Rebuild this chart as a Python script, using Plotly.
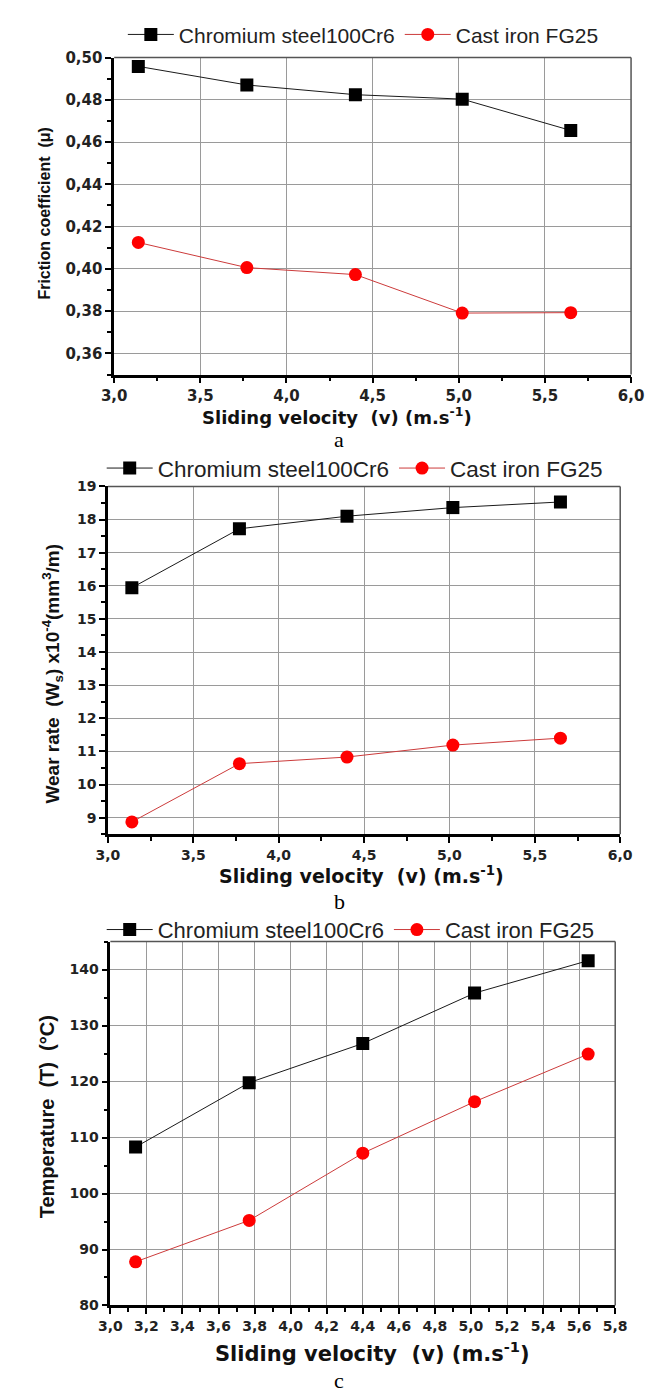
import plotly.graph_objects as go

W, H = 662, 1394

# ---------------- data ----------------
velocity = [3.14, 3.77, 4.40, 5.02, 5.65]
series_names = ["Chromium steel100Cr6", "Cast iron FG25"]

friction_steel = [0.4958, 0.4870, 0.4824, 0.4803, 0.4655]
friction_iron = [0.4125, 0.4006, 0.3973, 0.3791, 0.3793]

wear_steel = [15.94, 17.72, 18.10, 18.36, 18.53]
wear_iron = [8.87, 10.63, 10.83, 11.19, 11.40]

temp_steel = [108.3, 119.8, 126.8, 135.8, 141.6]
temp_iron = [87.8, 95.2, 107.2, 116.4, 124.9]

panel_labels = ["a", "b", "c"]
x_title = "Sliding velocity  (v) (m.s<sup>-1</sup>)"
y_titles = [
    "Friction coefficient  (μ)",
    "Wear rate  (W<sub>s</sub>) x10<sup>-4</sup>(mm<sup>3</sup>/m)",
    "Temperature  (T)  (°C)",
]

# ---------------- layout helpers ----------------
def px_x(v):
    return v / W


def px_y(v):
    return 1 - v / H


panels = [
    # plot box in pixels: left, right, top, bottom
    dict(box=(97, 635, 41, 362), xr=[3.0, 6.0], xd=0.5, xm=0.25, xf=".1f",
         yr=[0.35, 0.50], yt=[0.36, 0.38, 0.40, 0.42, 0.44, 0.46, 0.48, 0.50], ym=0.01, yf=".2f",
         tick=15, leg=(106, 18), lf=21, xt=(329, 404), ytp=(25, 199), cap=428, ts=18, ys=16,
         ydata=(friction_steel, friction_iron)),
    dict(box=(90.5, 623.7, 475.2, 827.3), xr=[3.0, 6.0], xd=0.5, xm=0.25, xf=".1f",
         yr=[8.5, 19], yt=list(range(9, 20)), ym=0.5, yf="d",
         tick=14, leg=(84, 457), lf=22.5, xt=(354, 869), ytp=(33, 665), cap=895, ts=19, ys=19,
         ydata=(wear_steel, wear_iron)),
    dict(box=(93, 618.5, 936, 1304.4), xr=[3.0, 5.8], xd=0.2, xm=0.1, xf=".1f",
         yr=[80, 145], yt=[80, 90, 100, 110, 120, 130, 140], ym=5, yf="d",
         tick=14, leg=(84, 924), lf=22, xt=(366, 1351), ytp=(28, 1113), cap=1380, ts=21, ys=20,
         ydata=(temp_steel, temp_iron)),
]

fig = go.Figure()
layout = dict(
    width=W, height=H, margin=dict(l=0, r=0, t=0, b=0),
    paper_bgcolor="white", plot_bgcolor="white",
    separators=", ", showlegend=True,
)
annotations = []
shapes = []

tick_font_family = "DejaVu Sans"
title_family = "DejaVu Sans"
legend_keys = ["legend", "legend2", "legend3"]

for i, p in enumerate(panels):
    n = "" if i == 0 else str(i + 1)
    xa, ya = "x" + n, "y" + n
    l, r, t, b = p["box"]
    steel, iron = p["ydata"]
    fig.add_trace(go.Scatter(
        x=velocity, y=steel, mode="lines+markers", name=series_names[0],
        xaxis=xa, yaxis=ya, legend=legend_keys[i],
        line=dict(color="#1a1a1a", width=1),
        marker=dict(symbol="square", size=13, color="black"),
    ))
    fig.add_trace(go.Scatter(
        x=velocity, y=iron, mode="lines+markers", name=series_names[1],
        xaxis=xa, yaxis=ya, legend=legend_keys[i],
        line=dict(color="#cc3b3b", width=1),
        marker=dict(symbol="circle", size=13, color="#ff0000"),
    ))
    layout["xaxis" + n] = dict(
        domain=[px_x(l), px_x(r)], anchor=ya, range=p["xr"],
        tick0=3.0, dtick=p["xd"], tickformat=p["xf"],
        showline=True, linecolor="black", linewidth=2.5,
        ticks="outside", ticklen=6, tickwidth=2, tickcolor="black",
        showgrid=True, gridcolor="#9a9a9a", gridwidth=1, zeroline=False,
        tickfont=dict(family=tick_font_family, size=p["tick"], color="#222", weight="bold"),
        minor=dict(dtick=p["xm"], tick0=3.0, ticks="outside", ticklen=4, tickwidth=1.5,
                   tickcolor="black", showgrid=False),
    )
    layout["yaxis" + n] = dict(
        domain=[px_y(b), px_y(t)], anchor=xa, range=p["yr"],
        tickmode="array", tickvals=p["yt"], tickformat=p["yf"],
        showline=True, linecolor="black", linewidth=2.5,
        ticks="outside", ticklen=6, tickwidth=2, tickcolor="black",
        showgrid=True, gridcolor="#9a9a9a", gridwidth=1, zeroline=False,
        tickfont=dict(family=tick_font_family, size=p["tick"], color="#222", weight="bold"),
        minor=dict(dtick=p["ym"], tick0=p["yr"][0], ticks="outside", ticklen=4, tickwidth=1.5,
                   tickcolor="black", showgrid=False),
    )
    # thin top and right frame
    shapes.append(dict(type="line", xref=xa + " domain", yref=ya + " domain",
                       x0=0, x1=1, y0=1, y1=1, line=dict(color="#555", width=1.5)))
    shapes.append(dict(type="line", xref=xa + " domain", yref=ya + " domain",
                       x0=1, x1=1, y0=0, y1=1, line=dict(color="#555", width=1.5)))
    # legend
    lx, ly = p["leg"]
    layout[legend_keys[i]] = dict(
        orientation="h", x=px_x(lx), xanchor="left", y=px_y(ly), yanchor="middle",
        font=dict(family="Liberation Sans, Arial", size=p["lf"], color="#222"),
        bgcolor="rgba(0,0,0,0)", borderwidth=0, itemwidth=46,
    )
    # axis titles
    annotations.append(dict(
        text=x_title, xref="paper", yref="paper", x=px_x(p["xt"][0]), y=px_y(p["xt"][1]),
        xanchor="center", yanchor="middle", showarrow=False,
        font=dict(family=title_family, size=p["ts"], color="#111", weight="bold"),
    ))
    annotations.append(dict(
        text=y_titles[i], xref="paper", yref="paper", x=px_x(p["ytp"][0]), y=px_y(p["ytp"][1]),
        xanchor="center", yanchor="middle", showarrow=False, textangle=-90,
        font=dict(family="Liberation Sans, Arial", size=p["ys"], color="#111", weight="bold"),
    ))
    # panel caption
    annotations.append(dict(
        text=panel_labels[i], xref="paper", yref="paper", x=px_x(331), y=px_y(p["cap"]),
        xanchor="center", yanchor="middle", showarrow=False,
        font=dict(family="Liberation Serif, Times New Roman", size=22, color="black"),
    ))

layout["annotations"] = annotations
layout["shapes"] = shapes
fig.update_layout(**layout)
fig.write_html("out.html")
